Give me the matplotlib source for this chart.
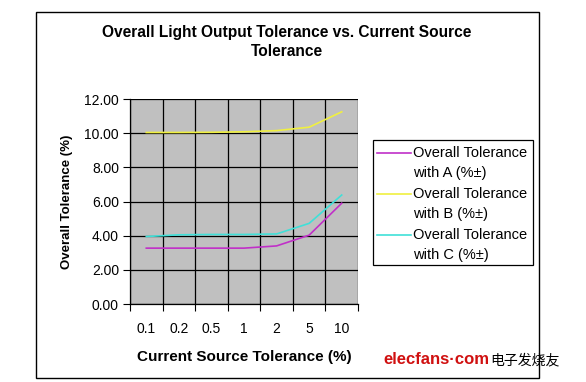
import matplotlib
matplotlib.use("Agg")
import matplotlib.pyplot as plt
from matplotlib.patches import Rectangle
from matplotlib.lines import Line2D

categories = ["0.1", "0.2", "0.5", "1", "2", "5", "10"]
tol_a = [3.27, 3.27, 3.27, 3.27, 3.40, 4.03, 5.90]
tol_b = [10.04, 10.04, 10.05, 10.08, 10.15, 10.35, 11.25]
tol_c = [3.95, 4.05, 4.07, 4.07, 4.10, 4.72, 6.38]
series_labels = ["Overall Tolerance\nwith A (%±)",
                 "Overall Tolerance\nwith B (%±)",
                 "Overall Tolerance\nwith C (%±)"]
colors = ["#C030C8", "#F0F040", "#40E0D8"]
yticks = [0, 2, 4, 6, 8, 10, 12]

W, H = 586, 382
fig = plt.figure(figsize=(W / 100, H / 100), dpi=100)
fig.patch.set_facecolor("white")
plt.rcParams['font.family'] = ['Liberation Sans', 'DejaVu Sans']

def fx(px):
    return px / W

def fy(py):
    return 1 - py / H

# outer chart frame
fig.patches.append(Rectangle((fx(36), fy(378)), fx(539) - fx(36), fy(12) - fy(378),
                             transform=fig.transFigure, fill=False,
                             edgecolor="black", linewidth=1.0))

ax = fig.add_axes([fx(130), fy(304), fx(358) - fx(130), fy(99) - fy(304)])
ax.set_facecolor("#C0C0C0")
x = list(range(len(categories)))
lines = []
for vals, c, lab in zip([tol_a, tol_b, tol_c], colors, series_labels):
    ln, = ax.plot(x, vals, color=c, linewidth=1.2, label=lab)
    lines.append(ln)

ax.set_xlim(-0.5, len(categories) - 0.5)
ax.set_ylim(0, 12)
ax.set_yticks(yticks)
ax.set_yticklabels([f"{v:.2f}" for v in yticks], fontsize=10)
ax.set_xticks(x)
ax.set_xticklabels(categories, fontsize=10)
ax.set_xticks([i - 0.5 for i in range(len(categories) + 1)], minor=True)
ax.tick_params(axis="x", which="major", length=0, pad=13)
ax.tick_params(axis="x", which="minor", length=5, direction="out", width=0.8)
ax.tick_params(axis="y", length=5, direction="out", width=0.8, pad=3)
ax.grid(True, axis="y", which="major", color="black", linewidth=0.9)
ax.grid(True, axis="x", which="minor", color="black", linewidth=0.9)
ax.set_axisbelow(True)
for s in ["top", "right"]:
    ax.spines[s].set_visible(False)
for s in ["left", "bottom"]:
    ax.spines[s].set_linewidth(0.9)

ax.set_ylabel("Overall Tolerance (%)", fontsize=9.5, fontweight="bold", labelpad=8)
ax.set_xlabel("Current Source Tolerance (%)", fontsize=11, fontweight="bold", labelpad=10)

fig.text(fx(287), fy(32), "Overall Light Output Tolerance vs. Current Source",
         ha="center", va="center", fontsize=11.2, fontweight="bold")
fig.text(fx(287), fy(51), "Tolerance", ha="center", va="center",
         fontsize=11.2, fontweight="bold")

# legend (drawn in figure pixels so the key line sits on the first text line)
fig.patches.append(Rectangle((fx(373), fy(265)), fx(533) - fx(373), fy(140) - fy(265),
                             transform=fig.transFigure, fill=True, facecolor="white",
                             edgecolor="black", linewidth=0.9))
entry_y = [153, 194, 235]
for ln, lab, ey in zip(lines, series_labels, entry_y):
    fig.lines.append(Line2D([fx(377), fx(411)], [fy(ey), fy(ey)],
                            transform=fig.transFigure, color=ln.get_color(),
                            linewidth=1.2))
    first, second = lab.split("\n")
    fig.text(fx(413), fy(ey), first, fontsize=10.5, ha="left", va="center")
    fig.text(fx(413), fy(ey + 20), second, fontsize=10.5, ha="left", va="center")

# watermark
fig.text(fx(383), fy(360), "elecfans·com", color="#D01010", fontsize=12,
         fontweight="bold", ha="left", va="center")
fig.text(fx(490), fy(360), "电子发烧友", color="black", fontsize=10,
         family=["Noto Sans CJK SC", "DejaVu Sans"], ha="left", va="center")

fig.savefig("out.png", dpi=100)
